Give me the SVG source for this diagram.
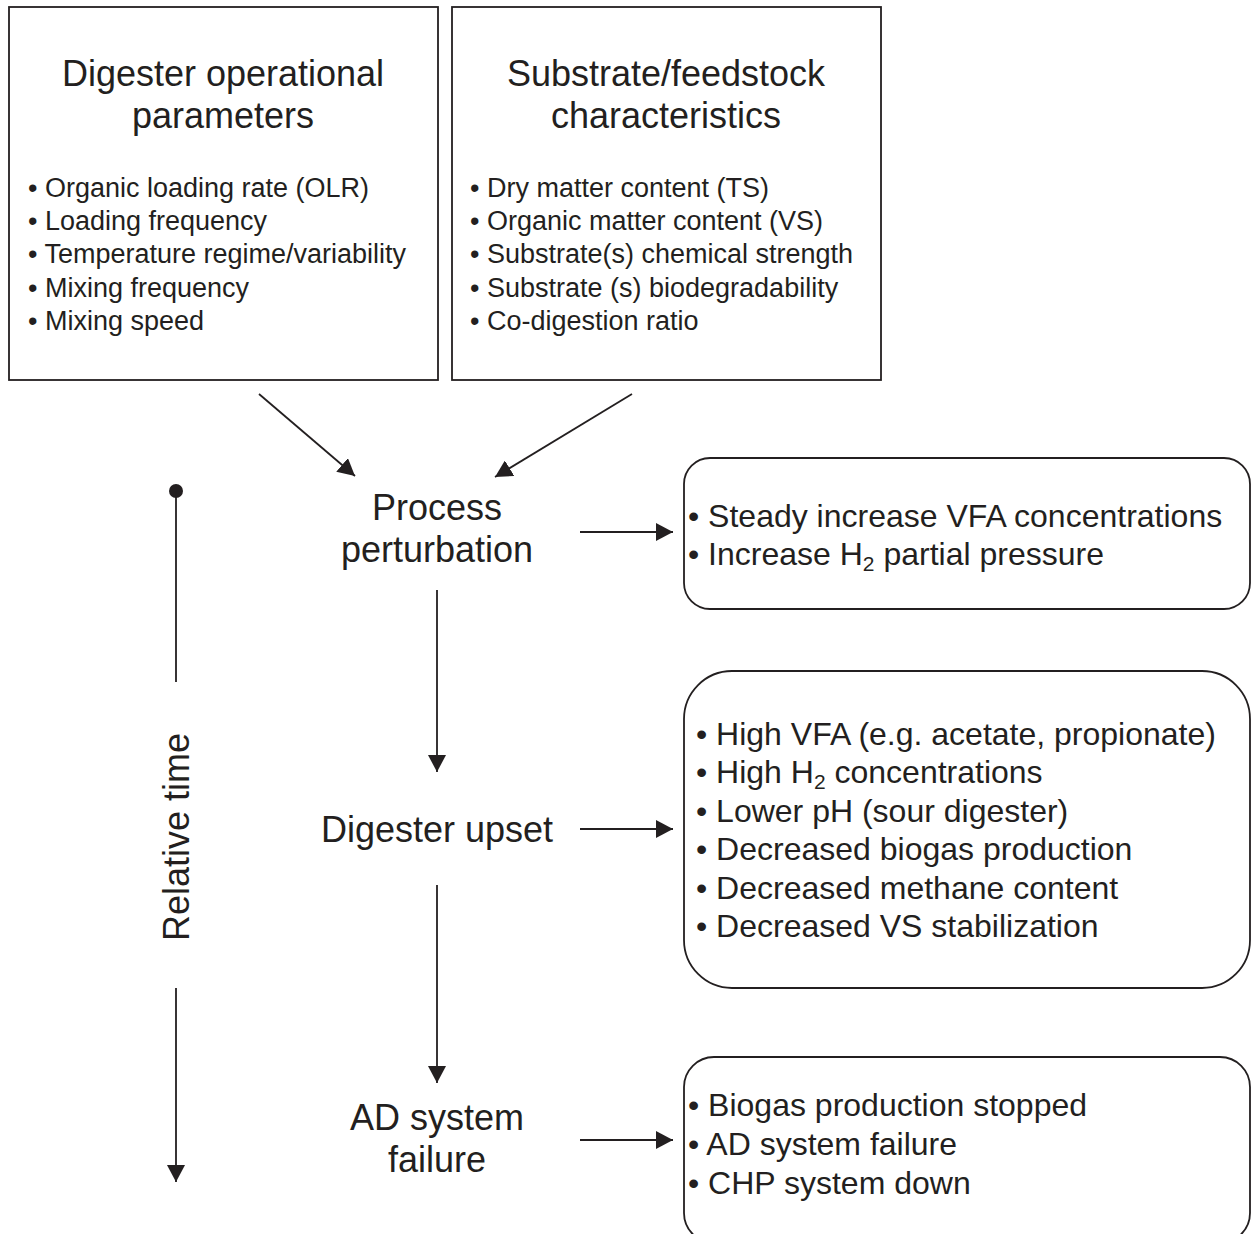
<svg xmlns="http://www.w3.org/2000/svg" width="1254" height="1234" viewBox="0 0 1254 1234">
<defs>
<style>
text{font-family:"Liberation Sans",Arial,sans-serif;fill:#231f20}
.title{font-size:36px;text-anchor:middle}
.b27{font-size:27px}
.b32{font-size:32px}
.box{fill:#fff;stroke:#231f20;stroke-width:1.8}
.ln{stroke:#231f20;stroke-width:1.8;fill:none}
.sub{font-size:21px}
</style>
<marker id="ah" viewBox="0 0 17 18" refX="17" refY="9" markerWidth="17" markerHeight="18" markerUnits="userSpaceOnUse" orient="auto">
<path d="M0,0 L17,9 L0,18 Z" fill="#231f20"/>
</marker>
</defs>
<rect width="1254" height="1234" fill="#fff"/>

<g id="node-operational">
<rect class="box" x="9" y="7" width="429" height="373"/>
<text class="title" x="223" y="86">Digester operational</text>
<text class="title" x="223" y="128">parameters</text>
<text class="b27" x="28" y="197">• Organic loading rate (OLR)</text>
<text class="b27" x="28" y="230">• Loading frequency</text>
<text class="b27" x="28" y="263">• Temperature regime/variability</text>
<text class="b27" x="28" y="297">• Mixing frequency</text>
<text class="b27" x="28" y="330">• Mixing speed</text>
</g>

<g id="node-substrate">
<rect class="box" x="452" y="7" width="429" height="373"/>
<text class="title" x="666" y="86">Substrate/feedstock</text>
<text class="title" x="666" y="128">characteristics</text>
<text class="b27" x="470" y="197">• Dry matter content (TS)</text>
<text class="b27" x="470" y="230">• Organic matter content (VS)</text>
<text class="b27" x="470" y="263">• Substrate(s) chemical strength</text>
<text class="b27" x="470" y="297">• Substrate (s) biodegradability</text>
<text class="b27" x="470" y="330">• Co-digestion ratio</text>
</g>

<g id="node-perturbation">
<text class="title" x="437" y="520">Process</text>
<text class="title" x="437" y="562">perturbation</text>
</g>

<g id="node-perturbation-effects">
<rect class="box" x="684" y="458" width="566" height="151" rx="26" ry="26"/>
<text class="b32" x="688" y="527">• Steady increase VFA concentrations</text>
<text class="b32" x="688" y="565">• Increase H<tspan class="sub" dy="6">2</tspan><tspan dy="-6"> partial pressure</tspan></text>
</g>

<g id="node-upset">
<text class="title" x="437" y="842">Digester upset</text>
</g>

<g id="node-upset-effects">
<rect class="box" x="684" y="671" width="566" height="317" rx="48" ry="48"/>
<text class="b32" x="696" y="745">• High VFA (e.g. acetate, propionate)</text>
<text class="b32" x="696" y="783">• High H<tspan class="sub" dy="6">2</tspan><tspan dy="-6"> concentrations</tspan></text>
<text class="b32" x="696" y="822">• Lower pH (sour digester)</text>
<text class="b32" x="696" y="860">• Decreased biogas production</text>
<text class="b32" x="696" y="899">• Decreased methane content</text>
<text class="b32" x="696" y="937">• Decreased VS stabilization</text>
</g>

<g id="node-failure">
<text class="title" x="437" y="1130">AD system</text>
<text class="title" x="437" y="1172">failure</text>
</g>

<g id="node-failure-effects">
<rect class="box" x="684" y="1057" width="566" height="186" rx="30" ry="30"/>
<text class="b32" x="688" y="1116">• Biogas production stopped</text>
<text class="b32" x="688" y="1155">• AD system failure</text>
<text class="b32" x="688" y="1194">• CHP system down</text>
</g>

<g id="time-axis">
<circle cx="176" cy="491" r="7" fill="#231f20"/>
<line class="ln" x1="176" y1="491" x2="176" y2="682"/>
<text class="title" transform="translate(189,837) rotate(-90)" x="0" y="0">Relative time</text>
<line class="ln" x1="176" y1="988" x2="176" y2="1182" marker-end="url(#ah)"/>
</g>

<g id="connectors">
<line class="ln" x1="259" y1="394" x2="355" y2="476" marker-end="url(#ah)"/>
<line class="ln" x1="632" y1="394" x2="495" y2="477" marker-end="url(#ah)"/>
<line class="ln" x1="580" y1="532" x2="673" y2="532" marker-end="url(#ah)"/>
<line class="ln" x1="437" y1="590" x2="437" y2="772" marker-end="url(#ah)"/>
<line class="ln" x1="580" y1="829" x2="673" y2="829" marker-end="url(#ah)"/>
<line class="ln" x1="437" y1="885" x2="437" y2="1083" marker-end="url(#ah)"/>
<line class="ln" x1="580" y1="1140" x2="673" y2="1140" marker-end="url(#ah)"/>
</g>
</svg>
